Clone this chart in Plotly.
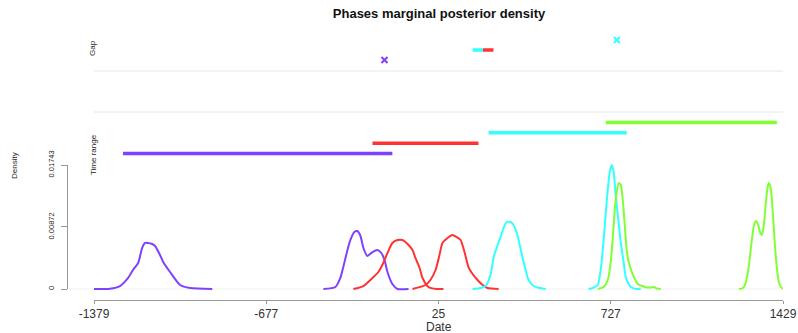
import plotly.graph_objects as go

W, H = 798, 333

phase_colors = ['#8040FF', '#FF3333', '#33FFFF', '#80FF33']

# time range of each phase (start, end)
tr_start = [-1261, -244, 229, 707]
tr_end = [-163, 188, 792, 1404]

# gaps between successive phases (interval) or overlap marks
gap_lo = [None, 164, None]
gap_hi = [None, 249, None]
gap_mark = [-195, None, 752]

# marginal densities (begin / end of each phase)
p1a_date = [-1383, -1314, -1273, -1240, -1220, -1199, -1183, -1171, -1159, -1142, -1130, -1110, -1097, -1069, -1028, -987, -897]
p1a_dens = [0, 0.00004, 0.00042, 0.00155, 0.00267, 0.00365, 0.00576, 0.00647, 0.00647, 0.00633, 0.00605, 0.00478, 0.00380, 0.00239, 0.00056, 0.00014, 0]
p1b_date = [-444, -395, -375, -363, -346, -334, -318, -306, -293, -281, -265, -244, -224, -208, -195, -183, -163, -142, -97]
p1b_dens = [0, 0.00028, 0.00155, 0.00309, 0.00548, 0.00689, 0.00801, 0.00815, 0.00745, 0.00576, 0.00464, 0.00520, 0.00548, 0.00506, 0.00408, 0.00239, 0.00070, 0, 0]

p2a_date = [-322, -281, -240, -220, -200, -183, -163, -142, -122, -110, -97, -81, -69, -52, -40, -16, 17, 45]
p2a_dens = [0, 0.00042, 0.00169, 0.00239, 0.00365, 0.00506, 0.00647, 0.00689, 0.00689, 0.00661, 0.00618, 0.00548, 0.00436, 0.00295, 0.00155, 0.00028, 0, 0]
p2b_date = [-81, -28, -8, 13, 29, 41, 62, 82, 98, 115, 131, 147, 164, 184, 205, 225, 270]
p2b_dens = [0, 0.00056, 0.00127, 0.00267, 0.00478, 0.00647, 0.00717, 0.00759, 0.00731, 0.00689, 0.00520, 0.00309, 0.00211, 0.00127, 0.00056, 0.00014, 0]

p3a_date = [164, 196, 217, 237, 250, 266, 278, 290, 303, 319, 331, 343, 356, 368, 380, 392, 413, 429, 462]
p3a_dens = [0, 0.00014, 0.00042, 0.00197, 0.00450, 0.00618, 0.00731, 0.00857, 0.00942, 0.00942, 0.00900, 0.00801, 0.00618, 0.00436, 0.00267, 0.00127, 0.00042, 0.00021, 0]
p3b_date = [637, 654, 674, 686, 698, 711, 723, 731, 739, 747, 760, 768, 780, 788, 800, 809, 829, 849]
p3b_dens = [0, 0.00014, 0.00056, 0.00267, 0.00689, 0.01251, 0.01645, 0.01743, 0.01645, 0.01321, 0.00900, 0.00647, 0.00365, 0.00169, 0.00070, 0.00028, 0, 0]

p4a_date = [674, 698, 715, 727, 739, 747, 760, 768, 776, 784, 792, 800, 813, 825, 837, 874, 890, 903, 915, 931]
p4a_dens = [0, 0.00028, 0.00127, 0.00380, 0.00900, 0.01251, 0.01490, 0.01462, 0.01251, 0.00900, 0.00548, 0.00380, 0.00239, 0.00141, 0.00070, 0.00021, 0.00021, 0.00028, 0.00007, 0]
p4b_date = [1249, 1266, 1278, 1290, 1302, 1311, 1319, 1327, 1335, 1343, 1351, 1360, 1368, 1372, 1380, 1388, 1396, 1405, 1413, 1425, 1441]
p4b_dens = [0, 0.00014, 0.00098, 0.00337, 0.00689, 0.00900, 0.00956, 0.00914, 0.00801, 0.00759, 0.00900, 0.01251, 0.01462, 0.01490, 0.01392, 0.01040, 0.00618, 0.00267, 0.00084, 0.00014, 0]

x_ticks = [-1379, -677, 25, 727, 1429]
dens_ticks = [0, 0.00872, 0.01743]
dens_labels = ['0', '0.00872', '0.01743']


def fx(px):
    # screen column -> paper fraction
    return px / W


def fy(py):
    # screen row -> paper fraction
    return 1 - py / H


fig = go.Figure()

curves = [(p1a_date, p1a_dens, 0), (p1b_date, p1b_dens, 0),
          (p2a_date, p2a_dens, 1), (p2b_date, p2b_dens, 1),
          (p3a_date, p3a_dens, 2), (p3b_date, p3b_dens, 2),
          (p4a_date, p4a_dens, 3), (p4b_date, p4b_dens, 3)]
for d, v, i in curves:
    fig.add_trace(go.Scatter(x=d, y=v, mode='lines', line=dict(color=phase_colors[i], width=2, shape='spline', smoothing=0.6),
                             xaxis='x', yaxis='y', hoverinfo='skip'))

# time ranges
for i in range(4):
    fig.add_trace(go.Scatter(x=[tr_start[i], tr_end[i]], y=[i, i], mode='lines',
                             line=dict(color=phase_colors[i], width=3.5), xaxis='x', yaxis='y2'))

# gaps
for i in range(3):
    if gap_lo[i] is not None:
        mid = (gap_lo[i] + gap_hi[i]) / 2
        fig.add_trace(go.Scatter(x=[gap_lo[i], mid], y=[i, i], mode='lines',
                                 line=dict(color=phase_colors[i + 1], width=3.5), xaxis='x', yaxis='y3'))
        fig.add_trace(go.Scatter(x=[mid, gap_hi[i]], y=[i, i], mode='lines',
                                 line=dict(color=phase_colors[i], width=3.5), xaxis='x', yaxis='y3'))
    if gap_mark[i] is not None:
        fig.add_trace(go.Scatter(x=[gap_mark[i]], y=[i], mode='markers',
                                 marker=dict(symbol='x-thin', size=6, line=dict(color=phase_colors[i], width=2)),
                                 xaxis='x', yaxis='y3'))

# dummy trace for density tick axis
fig.add_trace(go.Scatter(x=[None], y=[None], xaxis='x', yaxis='y4', showlegend=False))

k = 0.01743 / 124
axis_col = '#999999'
lab_font = dict(family='Liberation Sans, Arial, sans-serif', size=12, color='#333333')
rot_font = dict(family='Liberation Sans, Arial, sans-serif', size=7.5, color='#222222')
small_font = dict(family='Liberation Sans, Arial, sans-serif', size=8, color='#222222')

fig.update_layout(
    width=W, height=H,
    margin=dict(l=0, r=0, t=0, b=0, pad=0, autoexpand=False),
    paper_bgcolor='white', plot_bgcolor='rgba(0,0,0,0)',
    showlegend=False,
    title=dict(text='<b>Phases marginal posterior density</b>', x=fx(439), y=fy(13),
               xanchor='center', yanchor='middle',
               font=dict(family='Liberation Sans, Arial, sans-serif', size=13, color='#111111')),
    xaxis=dict(domain=[fx(94), fx(783)], range=[-1379, 1429], anchor='free', position=fy(300), automargin=False,
               showline=True, linecolor=axis_col, linewidth=1, ticks='outside', ticklen=3, tickcolor=axis_col,
               tickvals=x_ticks, ticktext=[str(v) for v in x_ticks], tickfont=lab_font,
               showgrid=False, zeroline=False),
    yaxis=dict(domain=[fy(300), fy(158)], range=[-11 * k, 131 * k], visible=False, automargin=False),
    yaxis2=dict(domain=[fy(164), fy(112)], range=[-1, 4], visible=False, automargin=False),
    yaxis3=dict(domain=[fy(70), fy(30)], range=[-1, 3], visible=False, automargin=False),
    yaxis4=dict(domain=[fy(289), fy(165)], range=[0, 0.01743], anchor='free', position=fx(67), automargin=False,
                showline=True, linecolor=axis_col, linewidth=1, ticks='outside', ticklen=6, tickcolor=axis_col,
                tickvals=dens_ticks, ticktext=dens_labels, tickangle=-90, tickfont=rot_font,
                ticklabelstandoff=4, showgrid=False, zeroline=False),
)

# panel separators and density baseline
for py in [71, 112]:
    fig.add_shape(type='line', xref='paper', yref='paper', x0=fx(94), x1=fx(783), y0=fy(py), y1=fy(py),
                  line=dict(color='#E6E6E6', width=1))
fig.add_shape(type='line', xref='paper', yref='y', x0=fx(67), x1=fx(783), y0=0, y1=0,
              line=dict(color='#F2F2F2', width=1), layer='below')

fig.add_annotation(text='Date', xref='paper', yref='paper', x=fx(439), y=fy(327), showarrow=False,
                   font=lab_font, xanchor='center', yanchor='middle')
fig.add_annotation(text='Density', xref='paper', yref='paper', x=fx(14), y=fy(166), showarrow=False,
                   textangle=-90, font=small_font, xanchor='center', yanchor='middle')
fig.add_annotation(text='Gap', xref='paper', yref='paper', x=fx(93), y=fy(48), showarrow=False,
                   textangle=-90, font=small_font, xanchor='center', yanchor='middle')
fig.add_annotation(text='Time range', xref='paper', yref='paper', x=fx(93), y=fy(155), showarrow=False,
                   textangle=-90, font=small_font, xanchor='center', yanchor='middle')

# drop the default page margin so the figure sits at the window origin
fig.write_html("out.html", config={'displayModeBar': False},
               post_script="document.body.style.margin='0';")
